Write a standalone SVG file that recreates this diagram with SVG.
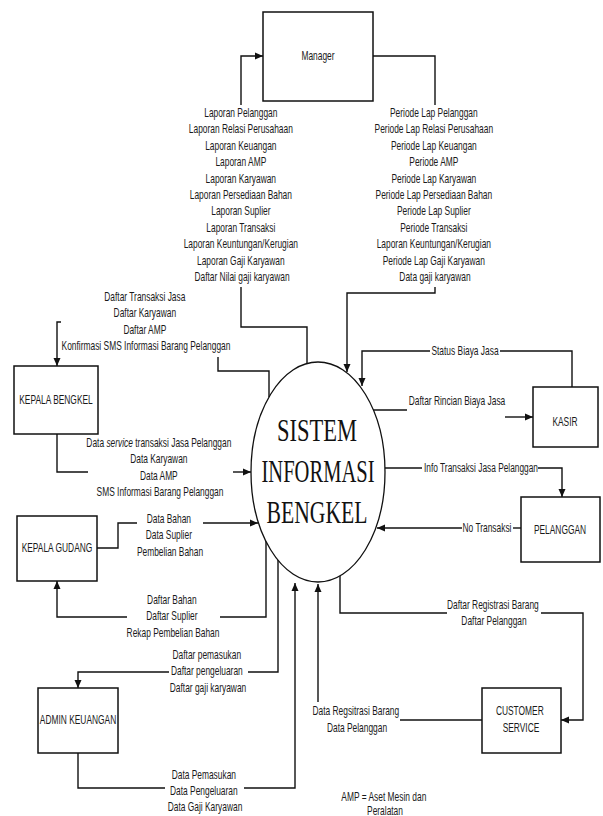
<svg xmlns="http://www.w3.org/2000/svg" width="603" height="816" viewBox="0 0 603 816">
<style>
  .box{fill:#fff;stroke:#111;stroke-width:1.5}
  .ln{fill:none;stroke:#111;stroke-width:1.4}
  .t{font-family:"Liberation Sans",Arial,sans-serif;font-size:12px;fill:#1a1a1a;text-anchor:middle}
  .big{font-family:"Liberation Serif","Times New Roman",serif;font-size:32px;fill:#111;text-anchor:middle}
</style>
<defs>
  <marker id="arr" markerUnits="userSpaceOnUse" markerWidth="9" markerHeight="8" refX="8" refY="4" orient="auto">
    <path d="M0,0.5 L8,4 L0,7.5 z" fill="#111"/>
  </marker>
</defs>
<rect width="603" height="816" fill="#fff"/>

<g id="connectors">
  <path class="ln" d="M241,105 V56 H263" marker-end="url(#arr)"/>
  <path class="ln" d="M307,363 V327 H241 V287"/>
  <path class="ln" d="M373,56 H435 V105"/>
  <path class="ln" d="M435,287 V293 H347 V372" marker-end="url(#arr)"/>
  <path class="ln" d="M269,397 V371 H218 V357"/>
  <path class="ln" d="M61,322 H57 V366" marker-end="url(#arr)"/>
  <path class="ln" d="M57,434 V472 H88"/>
  <path class="ln" d="M233,472 H251" marker-end="url(#arr)"/>
  <path class="ln" d="M97,548 H118 V523 H137"/>
  <path class="ln" d="M203,523 H258" marker-end="url(#arr)"/>
  <path class="ln" d="M266,541 V617 H220"/>
  <path class="ln" d="M127,617 H57 V581" marker-end="url(#arr)"/>
  <path class="ln" d="M278,560 V672 H248"/>
  <path class="ln" d="M169,672 H78 V688" marker-end="url(#arr)"/>
  <path class="ln" d="M78,753 V788 H165"/>
  <path class="ln" d="M244,788 H295 V583" marker-end="url(#arr)"/>
  <path class="ln" d="M482,720 H400"/>
  <path class="ln" d="M318,702 V584" marker-end="url(#arr)"/>
  <path class="ln" d="M340,576 V613 H447"/>
  <path class="ln" d="M541,613 H583 V720 H561" marker-end="url(#arr)"/>
  <path class="ln" d="M572,387 V351 H500"/>
  <path class="ln" d="M430,351 H362 V386" marker-end="url(#arr)"/>
  <path class="ln" d="M373,410 H407"/>
  <path class="ln" d="M505,417 H533" marker-end="url(#arr)"/>
  <path class="ln" d="M385,468 H422"/>
  <path class="ln" d="M538,468 H562 V497" marker-end="url(#arr)"/>
  <path class="ln" d="M521,528 H513"/>
  <path class="ln" d="M462,528 H377" marker-end="url(#arr)"/>
</g>

<g id="labels">
  <text class="t" transform="translate(242,0) scale(0.7,1)">
    <tspan x="0" y="117">Laporan Pelanggan</tspan>
    <tspan x="0" y="133.4">Laporan Relasi Perusahaan</tspan>
    <tspan x="0" y="149.8">Laporan Keuangan</tspan>
    <tspan x="0" y="166.2">Laporan AMP</tspan>
    <tspan x="0" y="182.6">Laporan Karyawan</tspan>
    <tspan x="0" y="199">Laporan Persediaan Bahan</tspan>
    <tspan x="0" y="215.4">Laporan Suplier</tspan>
    <tspan x="0" y="231.8">Laporan Transaksi</tspan>
    <tspan x="0" y="248.2">Laporan Keuntungan/Kerugian</tspan>
    <tspan x="0" y="264.6">Laporan Gaji Karyawan</tspan>
    <tspan x="0" y="281">Daftar Nilai gaji karyawan</tspan>
  </text>
  <text class="t" transform="translate(435,0) scale(0.7,1)">
    <tspan x="0" y="117">Periode Lap Pelanggan</tspan>
    <tspan x="0" y="133.4">Periode Lap Relasi Perusahaan</tspan>
    <tspan x="0" y="149.8">Periode Lap Keuangan</tspan>
    <tspan x="0" y="166.2">Periode AMP</tspan>
    <tspan x="0" y="182.6">Periode Lap Karyawan</tspan>
    <tspan x="0" y="199">Periode Lap Persediaan Bahan</tspan>
    <tspan x="0" y="215.4">Periode Lap Suplier</tspan>
    <tspan x="0" y="231.8">Periode Transaksi</tspan>
    <tspan x="0" y="248.2">Laporan Keuntungan/Kerugian</tspan>
    <tspan x="0" y="264.6">Periode Lap Gaji Karyawan</tspan>
    <tspan x="0" y="281">Data gaji karyawan</tspan>
  </text>
  <text class="t" transform="translate(146,0) scale(0.7,1)">
    <tspan x="0" y="301">Daftar Transaksi Jasa</tspan>
    <tspan x="0" y="317.4">Daftar Karyawan</tspan>
    <tspan x="0" y="333.8">Daftar AMP</tspan>
    <tspan x="0" y="350.2">Konfirmasi SMS Informasi Barang Pelanggan</tspan>
  </text>
  <text class="t" transform="translate(160,0) scale(0.7,1)">
    <tspan x="0" y="447">Data <tspan font-style="italic">service</tspan> transaksi Jasa Pelanggan</tspan>
    <tspan x="0" y="463.4">Data Karyawan</tspan>
    <tspan x="0" y="479.8">Data AMP</tspan>
    <tspan x="0" y="496.2">SMS Informasi Barang Pelanggan</tspan>
  </text>
  <text class="t" transform="translate(170,0) scale(0.7,1)">
    <tspan x="0" y="523">Data Bahan</tspan>
    <tspan x="0" y="539.4">Data Suplier</tspan>
    <tspan x="0" y="555.8">Pembelian Bahan</tspan>
  </text>
  <text class="t" transform="translate(173,0) scale(0.7,1)">
    <tspan x="0" y="604">Daftar Bahan</tspan>
    <tspan x="0" y="620.5">Daftar Suplier</tspan>
    <tspan x="0" y="637">Rekap Pembelian Bahan</tspan>
  </text>
  <text class="t" transform="translate(208,0) scale(0.7,1)">
    <tspan x="0" y="659">Daftar pemasukan</tspan>
    <tspan x="0" y="675.5">Daftar pengeluaran</tspan>
    <tspan x="0" y="692">Daftar gaji karyawan</tspan>
  </text>
  <text class="t" transform="translate(205,0) scale(0.7,1)">
    <tspan x="0" y="779">Data Pemasukan</tspan>
    <tspan x="0" y="795">Data Pengeluaran</tspan>
    <tspan x="0" y="811">Data Gaji Karyawan</tspan>
  </text>
  <text class="t" transform="translate(494,0) scale(0.7,1)">
    <tspan x="0" y="609">Daftar Registrasi Barang</tspan>
    <tspan x="0" y="625">Daftar Pelanggan</tspan>
  </text>
  <text class="t" transform="translate(357,0) scale(0.7,1)">
    <tspan x="0" y="715">Data Regsitrasi Barang</tspan>
    <tspan x="0" y="732">Data Pelanggan</tspan>
  </text>
  <text class="t" transform="translate(465,0) scale(0.7,1)" x="0" y="355">Status Biaya Jasa</text>
  <text class="t" transform="translate(457,0) scale(0.7,1)" x="0" y="405">Daftar Rincian Biaya Jasa</text>
  <text class="t" x="481" y="472" textLength="114" lengthAdjust="spacingAndGlyphs">Info Transaksi Jasa Pelanggan</text>
  <text class="t" transform="translate(487,0) scale(0.7,1)" x="0" y="532">No Transaksi</text>
  <text class="t" transform="translate(385,0) scale(0.7,1)">
    <tspan x="0" y="801">AMP = Aset Mesin dan</tspan>
    <tspan x="0" y="815">Peralatan</tspan>
  </text>
</g>

<g id="manager">
  <rect class="box" x="263" y="12" width="110" height="89"/>
  <text class="t" transform="translate(318,0) scale(0.7,1)" x="0" y="60">Manager</text>
</g>
<g id="sistem">
  <ellipse cx="318" cy="472" rx="67" ry="110" fill="#fff" stroke="#111" stroke-width="1.3"/>
  <text class="big" x="317" y="441" textLength="80" lengthAdjust="spacingAndGlyphs">SISTEM</text>
  <text class="big" x="318" y="482" textLength="113" lengthAdjust="spacingAndGlyphs">INFORMASI</text>
  <text class="big" x="317" y="523" textLength="101" lengthAdjust="spacingAndGlyphs">BENGKEL</text>
</g>
<g id="kepala-bengkel">
  <rect class="box" x="14" y="366" width="84" height="68"/>
  <text class="t" transform="translate(56,0) scale(0.7,1)" x="0" y="404">KEPALA BENGKEL</text>
</g>
<g id="kepala-gudang">
  <rect class="box" x="17" y="516" width="80" height="65"/>
  <text class="t" transform="translate(57,0) scale(0.7,1)" x="0" y="552">KEPALA GUDANG</text>
</g>
<g id="admin-keuangan">
  <rect class="box" x="38" y="688" width="80" height="65"/>
  <text class="t" transform="translate(78,0) scale(0.7,1)" x="0" y="724">ADMIN KEUANGAN</text>
</g>
<g id="kasir">
  <rect class="box" x="533" y="387" width="65" height="60"/>
  <text class="t" transform="translate(565,0) scale(0.7,1)" x="0" y="426">KASIR</text>
</g>
<g id="pelanggan">
  <rect class="box" x="521" y="497" width="79" height="65"/>
  <text class="t" transform="translate(560,0) scale(0.7,1)" x="0" y="534">PELANGGAN</text>
</g>
<g id="customer-service">
  <rect class="box" x="482" y="688" width="79" height="65"/>
  <text class="t" transform="translate(521,0) scale(0.7,1)">
    <tspan x="0" y="715">CUSTOMER</tspan>
    <tspan x="0" y="732">SERVICE</tspan>
  </text>
</g>
</svg>
